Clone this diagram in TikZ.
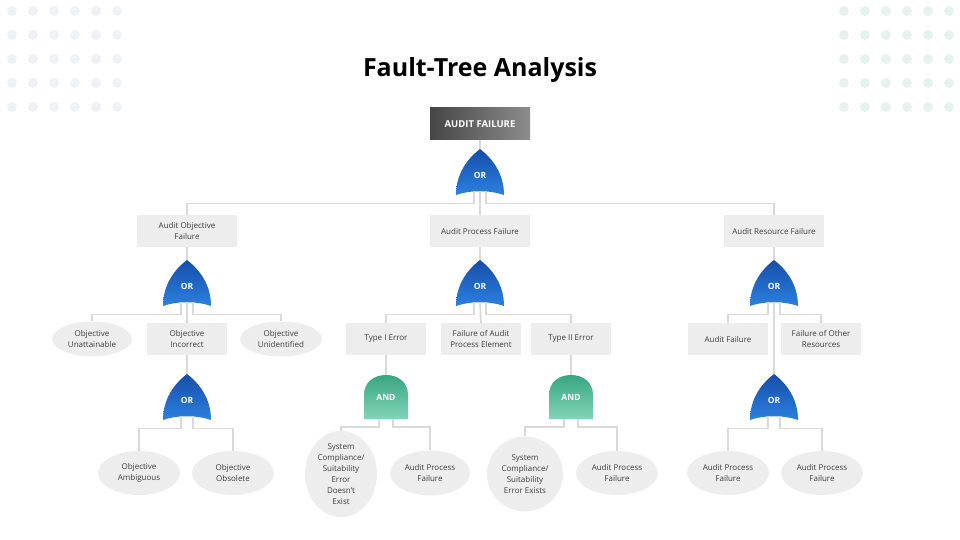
\documentclass[tikz,border=0pt]{standalone}
\usepackage{fontspec}
\setmainfont{Open Sans}
\usetikzlibrary{shapes.geometric}
\definecolor{faulttext}{RGB}{60,60,60}
\definecolor{faultbox}{RGB}{237,237,237}
\definecolor{faultline}{RGB}{217,217,217}
\definecolor{ordark}{RGB}{22,78,168}
\definecolor{orlight}{RGB}{44,128,224}
\definecolor{anddark}{RGB}{56,166,130}
\definecolor{andlight}{RGB}{130,212,182}
\definecolor{topdark}{RGB}{70,70,70}
\definecolor{toplight}{RGB}{140,140,140}
\definecolor{dotblue}{RGB}{238,241,246}
\definecolor{dotgreen}{RGB}{229,243,240}

% gates: name, x, y of the centre
\newcommand{\orgate}[3]{%
  \begin{scope}[shift={(#2,#3)}]
    \shade[top color=ordark, bottom color=orlight]
      (-24,23) .. controls (-24,2) and (-13,-13) .. (0,-23)
      .. controls (13,-13) and (24,2) .. (24,23)
      .. controls (10,18) and (-10,18) .. (-24,23) -- cycle;
    \node[gatebox] (#1) at (0,-1.9) {};
    \node[gatetext] (#1t) at (0,3) {OR};
  \end{scope}}
\newcommand{\andgate}[3]{%
  \begin{scope}[shift={(#2,#3)}]
    \shade[top color=anddark, bottom color=andlight]
      (-22,22) -- (-22,-2) .. controls (-22,-15) and (-12,-22) .. (0,-22)
      .. controls (12,-22) and (22,-15) .. (22,-2) -- (22,22) -- cycle;
    \node[gatebox, minimum width=44pt, minimum height=44pt] (#1) at (0,0) {};
    \node[gatetext] (#1t) at (0,0) {AND};
  \end{scope}}

\begin{document}
\begin{tikzpicture}[x=1pt, y=-1pt,
    txt/.style={font=\fontsize{8}{11}\selectfont, text=faulttext, align=center},
    boxnode/.style={txt, fill=faultbox, minimum width=80pt, minimum height=32pt, inner sep=0pt},
    ovalnode/.style={txt, ellipse, fill=faultbox, minimum width=82pt, minimum height=44pt, inner sep=0pt},
    gatebox/.style={inner sep=0pt, minimum width=48pt, minimum height=42.2pt},
    gatetext/.style={text=white, font=\fontsize{8.5}{8.5}\bfseries\selectfont},
    link/.style={draw=faultline, line width=1.8pt}]
    \useasboundingbox (0,0) rectangle (960,540);

    % Background dots
    \foreach \i in {0,...,5}
      \foreach \j in {0,...,4} {
        \fill[dotblue] (12+21*\i, 11+24*\j) circle (5pt);
        \fill[dotgreen] (844+21*\i, 11+24*\j) circle (5pt);
      }

    % Title and top event
    \node[font=\fontsize{25}{30}\bfseries\selectfont] (title) at (480,70) {Fault-Tree Analysis};
    \node[left color=topdark, right color=toplight, text=white, font=\fontsize{9.5}{9.5}\bfseries\selectfont,
      minimum width=100pt, minimum height=32pt, inner sep=0pt] (top) at (480,124) {AUDIT FAILURE};
    \orgate{g0}{480}{172}

    % First level
    \node[boxnode, minimum width=100pt] (aof) at (187,231) {Audit Objective\\Failure};
    \node[boxnode, minimum width=100pt] (apf) at (480,231) {Audit Process Failure};
    \node[boxnode, minimum width=100pt] (arf) at (774,231) {Audit Resource Failure};
    \orgate{g1}{187}{283}
    \orgate{g2}{480}{283}
    \orgate{g3}{774}{283}

    % Second level
    \node[ovalnode, minimum width=80pt, minimum height=35pt] (ou) at (92,339) {Objective\\Unattainable};
    \node[boxnode] (oi) at (187,339) {Objective\\Incorrect};
    \node[ovalnode, minimum height=35pt] (oun) at (281,339) {Objective\\Unidentified};
    \node[boxnode] (t1) at (386,339) {Type I Error};
    \node[boxnode] (fape) at (481,339) {Failure of Audit\\Process Element};
    \node[boxnode] (t2) at (571,339) {Type II Error};
    \node[boxnode] (af) at (728,339) {Audit Failure};
    \node[boxnode] (foor) at (821,339) {Failure of Other\\Resources};

    % Third level gates
    \orgate{g4}{187}{397}
    \andgate{a1}{386}{397}
    \andgate{a2}{571}{397}
    \orgate{g5}{774}{397}

    % Basic events
    \node[ovalnode] (oa) at (139,473) {Objective\\Ambiguous};
    \node[ovalnode] (oo) at (233,473) {Objective\\Obsolete};
    \node[ovalnode, minimum width=72pt, minimum height=75pt] (sc1) at (341,474) {System\\Compliance/\\Suitability\\Error\\Doesn’t\\Exist};
    \node[ovalnode, minimum width=80pt, minimum height=45pt] (ap1) at (430,473) {Audit Process\\Failure};
    \node[ovalnode, minimum width=76pt, minimum height=75pt] (sc2) at (525,474) {System\\Compliance/\\Suitability\\Error Exists};
    \node[ovalnode] (ap2) at (617,473) {Audit Process\\Failure};
    \node[ovalnode] (ap3) at (728,473) {Audit Process\\Failure};
    \node[ovalnode] (ap4) at (822,473) {Audit Process\\Failure};

    % Connectors
    \draw[link] (top.south) -- (g0.north);
    \draw[link] ([xshift=-6pt]g0.south) -- ++(0,12) -| (aof.north);
    \draw[link] (g0.south) -- (apf.north);
    \draw[link] ([xshift=6pt]g0.south) -- ++(0,12) -| (arf.north);
    \draw[link] (aof.south) -- (g1.north);
    \draw[link] (apf.south) -- (g2.north);
    \draw[link] (arf.south) -- (g3.north);

    \draw[link] ([xshift=-6pt]g1.south) -- ++(0,12) -| (ou.north);
    \draw[link] (g1.south) -- (oi.north);
    \draw[link] ([xshift=6pt]g1.south) -- ++(0,12) -| (oun.north);
    \draw[link] ([xshift=-6pt]g2.south) -- ++(0,12) -| (t1.north);
    \draw[link] (g2.south) -- (fape.north);
    \draw[link] ([xshift=6pt]g2.south) -- ++(0,12) -| (t2.north);
    \draw[link] ([xshift=-6pt]g3.south) -- ++(0,12) -| (af.north);
    \draw[link] (g3.south) -- (g5.north);
    \draw[link] ([xshift=6pt]g3.south) -- ++(0,12) -| (foor.north);

    \draw[link] (oi.south) -- (g4.north);
    \draw[link] (t1.south) -- (a1.north);
    \draw[link] (t2.south) -- (a2.north);

    \draw[link] ([xshift=-6pt]g4.south) -- ++(0,12) -| (oa.north);
    \draw[link] ([xshift=6pt]g4.south) -- ++(0,12) -| (oo.north);
    \draw[link] ([xshift=-7pt]a1.south) -- ++(0,8) -| (sc1.north);
    \draw[link] ([xshift=7pt]a1.south) -- ++(0,8) -| (ap1.north);
    \draw[link] ([xshift=-7pt]a2.south) -- ++(0,8) -| (sc2.north);
    \draw[link] ([xshift=7pt]a2.south) -- ++(0,8) -| (ap2.north);
    \draw[link] ([xshift=-6pt]g5.south) -- ++(0,12) -| (ap3.north);
    \draw[link] ([xshift=6pt]g5.south) -- ++(0,12) -| (ap4.north);
\end{tikzpicture}
\end{document}
